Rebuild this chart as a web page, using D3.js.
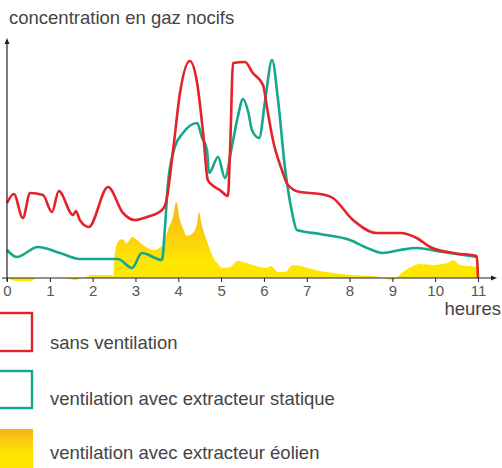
<!DOCTYPE html>
<html><head><meta charset="utf-8">
<script src="https://cdn.jsdelivr.net/npm/d3@7"></script>
<style>
body{margin:0;background:#fff;}
svg{display:block;font-family:"Liberation Sans",Arial,sans-serif;}
</style></head>
<body><svg id="c" width="502" height="468"></svg>
<script>
const hourTicks = [0,1,2,3,4,5,6,7,8,9,10,11];
const titleText = "concentration en gaz nocifs";
const xLabel = "heures";
const seriesNames = ["sans ventilation","ventilation avec extracteur statique","ventilation avec extracteur éolien"];

// sans ventilation (red)
const redH = [0,0.16,0.37,0.54,0.84,1.05,1.21,1.54,1.61,1.70,1.91,2.36,2.71,2.99,3.27,3.62,3.71,3.88,4.04,4.27,4.44,4.58,4.69,4.79,4.97,5.16,5.21,5.28,5.56,5.74,5.98,6.07,6.21,6.42,6.56,6.84,7.31,7.61,8.08,8.64,9.18,9.57,9.88,10.42,10.97,10.99,11.0];
const redV = [75,84,60,85,83,66,87,63,67,58,51,91,65,58,61,68,75,128,185,217,195,145,98,93,88,82,128,215,216,205,193,171,138,108,93,86,84,80,58,45,45,40,31,25,22,11,0];

// ventilation avec extracteur statique (green)
const greenH = [0,0.23,0.72,1.24,1.70,2.59,2.92,3.15,3.62,3.69,3.76,3.92,4.11,4.44,4.55,4.67,4.72,4.93,5.09,5.25,5.39,5.51,5.64,5.72,5.89,6.03,6.19,6.33,6.49,6.66,6.77,7.31,8.01,8.41,8.78,9.18,9.57,10.04,10.98];
const greenV = [28,21,31,25,19,19,10,25,18,51,95,131,145,155,141,128,105,121,100,131,161,179,165,148,140,178,218,178,111,65,48,44,38,30,25,28,30,27,21];

// ventilation avec extracteur éolien (yellow area)
const yellowH = [0,0.23,0.54,0.72,1.35,1.59,1.77,2.01,2.41,2.48,2.52,2.59,2.69,2.80,2.92,3.04,3.18,3.41,3.62,3.76,3.88,3.95,4.04,4.11,4.20,4.34,4.44,4.48,4.55,4.62,4.72,4.81,4.93,5.02,5.21,5.39,5.67,6.07,6.16,6.33,6.49,6.68,7.31,8.01,8.55,8.76,9.00,9.25,9.65,9.95,10.28,10.42,10.58,10.98,11.0];
const yellowV = [0,-3,-3,0,0,-2,0,3,3,2,25,36,39,35,41,38,33,28,32,48,62,76,58,50,42,45,55,66,53,43,31,21,14,10,11,17,14,10,12,6,6,13,7,3,2,0,-2,6,14,13,15,18,13,11,0];

const svg = d3.select("#c");
const x = d3.scaleLinear().domain([0,11]).range([7,478]);
const y = d3.scaleLinear().domain([0,240]).range([278,38]);

const RED="#e4222a", GREEN="#12a98b", TXT="#444";
const FS = 18.5;

const defs = svg.append("defs");
const grad = defs.append("linearGradient").attr("id","yg")
  .attr("gradientUnits","userSpaceOnUse").attr("x1",0).attr("x2",0)
  .attr("y1",y(80)).attr("y2",y(15));
grad.append("stop").attr("offset","0").attr("stop-color","#f7b21d");
grad.append("stop").attr("offset","1").attr("stop-color","#ffe600");
const grad2 = defs.append("linearGradient").attr("id","yg2").attr("x1",0).attr("x2",0).attr("y1",0).attr("y2",1);
grad2.append("stop").attr("offset","0").attr("stop-color","#f7b21d");
grad2.append("stop").attr("offset","0.6").attr("stop-color","#ffe600");

const yellow = yellowH.map((h,i)=>({h,v:yellowV[i]}));
const green = greenH.map((h,i)=>({h,v:greenV[i]}));
const red = redH.map((h,i)=>({h,v:redV[i]}));

svg.append("path").datum(yellow)
  .attr("d", d3.area().x(d=>x(d.h)).y0(y(0)).y1(d=>y(d.v)).curve(d3.curveMonotoneX))
  .attr("fill","url(#yg)");

const line = d3.line().x(d=>x(d.h)).y(d=>y(d.v)).curve(d3.curveMonotoneX);
svg.append("path").datum(green).attr("d",line).attr("fill","none")
  .attr("stroke",GREEN).attr("stroke-width",2.6).attr("stroke-linejoin","round");
svg.append("path").datum(red).attr("d",line).attr("fill","none")
  .attr("stroke",RED).attr("stroke-width",2.6).attr("stroke-linejoin","round");

// axes
const ax = svg.append("g").attr("transform",`translate(0,${y(0)})`)
  .call(d3.axisBottom(x).tickValues(hourTicks).tickSize(4).tickSizeOuter(0).tickPadding(3));
ax.select(".domain").remove();
ax.selectAll(".tick line").attr("stroke","#222");
ax.selectAll(".tick text").attr("fill","#555").attr("font-size",15).attr("font-family","Liberation Sans, Arial, sans-serif");

svg.append("line").attr("x1",2).attr("x2",494).attr("y1",y(0)).attr("y2",y(0)).attr("stroke","#222").attr("stroke-width",1.2);
svg.append("path").attr("d",`M497,${y(0)} l-6,-2.5 l0,5 z`).attr("fill","#222");
svg.append("line").attr("x1",x(0)).attr("x2",x(0)).attr("y1",y(0)+3).attr("y2",42).attr("stroke","#222").attr("stroke-width",1.2);
svg.append("path").attr("d",`M${x(0)},38 l-2.5,6 l5,0 z`).attr("fill","#222");

svg.append("text").attr("x",9).attr("y",23.5).attr("fill",TXT).attr("font-size",FS).text(titleText);
svg.append("text").attr("x",501).attr("y",315).attr("text-anchor","end").attr("fill",TXT).attr("font-size",FS).text(xLabel);

// legend
const legY = [313,371,429];
svg.append("rect").attr("x",-3).attr("y",legY[0]).attr("width",35).attr("height",38).attr("fill","none").attr("stroke",RED).attr("stroke-width",2.4);
svg.append("rect").attr("x",-3).attr("y",legY[1]).attr("width",35).attr("height",37).attr("fill","none").attr("stroke",GREEN).attr("stroke-width",2.4);
svg.append("rect").attr("x",0).attr("y",legY[2]).attr("width",33).attr("height",40).attr("fill","url(#yg2)");
const legTextY = [349,405,459];
seriesNames.forEach((n,i)=>{
  svg.append("text").attr("x",50).attr("y",legTextY[i]).attr("fill",TXT).attr("font-size",FS).text(n);
});
</script></body></html>
